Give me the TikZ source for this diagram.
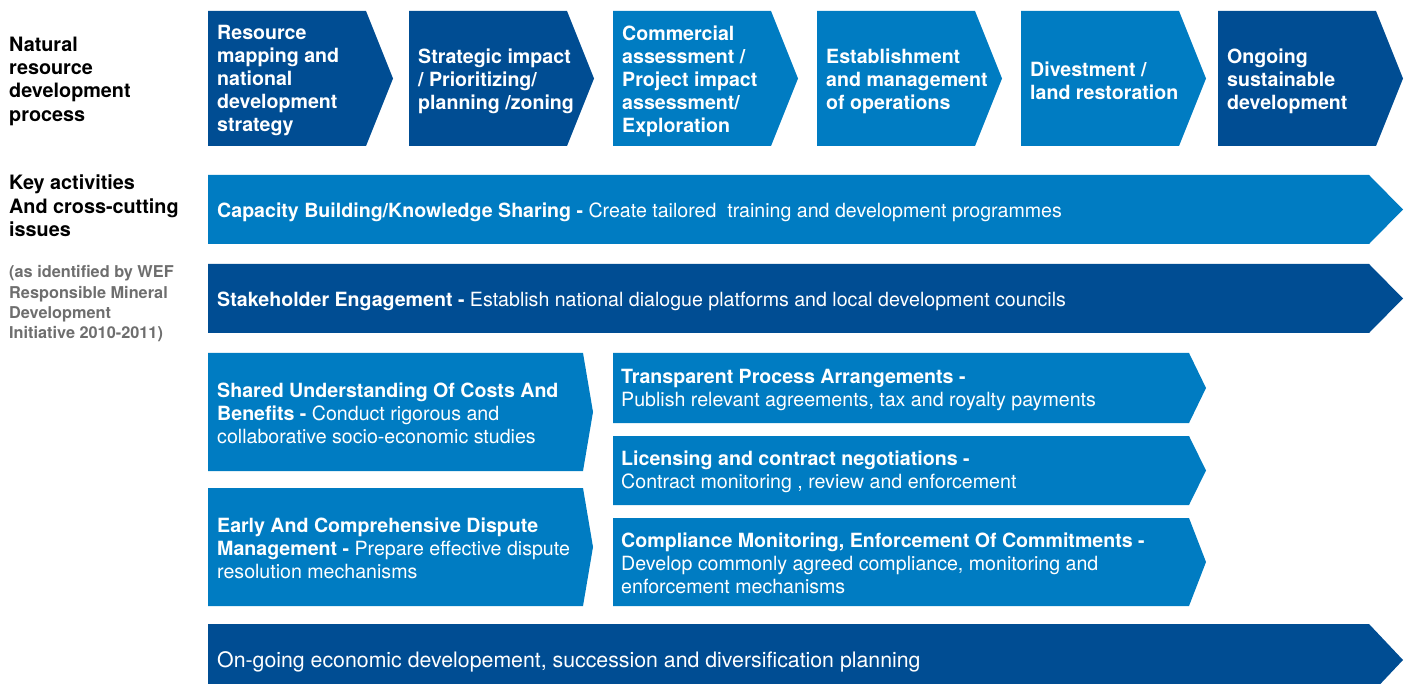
\documentclass[tikz,border=0pt]{standalone}
\usepackage{fontspec}
\setmainfont{TeX Gyre Heros}
\definecolor{dkblue}{RGB}{0,77,147}
\definecolor{ltblue}{RGB}{0,124,194}
\definecolor{notegray}{RGB}{110,110,110}
% filled box with a pointed right end
\newcommand\tipbox[6]{\fill[#1] (#2,#3) -- ++(#4,0) -- ++(#6,#5/2) -- ++(-#6,#5/2) -- ++(-#4,0) -- cycle;}
\tikzset{
  boxtext/.style={anchor=west, align=left, inner sep=0pt, text=white, font=\fontsize{19.6}{23}\selectfont},
  sidetext/.style={anchor=west, align=left, inner sep=0pt, font=\fontsize{19.8}{23.3}\selectfont\bfseries},
  notetext/.style={anchor=west, align=left, inner sep=0pt, text=notegray, font=\fontsize{16.3}{20.3}\selectfont\bfseries}
}
\begin{document}
\begin{tikzpicture}[x=1pt,y=-1pt]
\clip (0,0) rectangle (1408,684);
% left labels
\node[sidetext] (process) at (9,81) {Natural\\resource\\development\\process};
\node[sidetext] (keyact) at (9,206) {Key activities\\And cross-cutting\\issues};
\node[notetext] (wef) at (9,304) {(as identified by WEF\\Responsible Mineral\\Development\\Initiative 2010-2011)};
% process stages
\foreach \x/\c/\t [count=\i] in {
  208/dkblue/{Resource\\mapping and\\national\\development\\strategy},
  409/dkblue/{Strategic impact\\/ Prioritizing/\\planning /zoning},
  613/ltblue/{Commercial\\assessment /\\Project impact\\assessment/\\Exploration},
  817/ltblue/{Establishment\\and management\\of operations},
  1021/ltblue/{Divestment /\\land restoration},
  1218/dkblue/{Ongoing\\sustainable\\development}}{
  \tipbox{\c}{\x}{11}{158}{135}{27}
  \node[boxtext, font=\fontsize{19.6}{23}\selectfont\bfseries] (s\i) at (\x+9,81) {\t};
}
% cross-cutting bars
\tipbox{ltblue}{208}{175}{1161}{69}{34}
\node[boxtext] (capacity) at (217,212) {\textbf{Capacity Building/Knowledge Sharing -} Create tailored\ \ training and development programmes};
\tipbox{dkblue}{208}{264}{1161}{69}{34}
\node[boxtext] (stakeholder) at (217,301) {\textbf{Stakeholder Engagement -} Establish national dialogue platforms and local development councils};
\tipbox{ltblue}{208}{353}{375}{118}{10}
\node[boxtext] (shared) at (217,413.5) {\textbf{Shared Understanding Of Costs And}\\\textbf{Benefits -} Conduct rigorous and\\collaborative socio-economic studies};
\tipbox{ltblue}{208}{488}{375}{118}{10}
\node[boxtext] (dispute) at (217,548.5) {\textbf{Early And Comprehensive Dispute}\\\textbf{Management -} Prepare effective dispute\\resolution mechanisms};
\tipbox{ltblue}{613}{353}{576}{70}{17}
\node[boxtext] (transparent) at (621,390) {\textbf{Transparent Process Arrangements -}\\Publish relevant agreements, tax and royalty payments};
\tipbox{ltblue}{613}{436}{576}{69}{17}
\node[boxtext] (licensing) at (621,472) {\textbf{Licensing and contract negotiations -}\\Contract monitoring , review and enforcement};
\tipbox{ltblue}{613}{518}{576}{88}{17}
\node[boxtext] (compliance) at (621,563.5) {\textbf{Compliance Monitoring, Enforcement Of Commitments -}\\Develop commonly agreed compliance, monitoring and\\enforcement mechanisms};
\tipbox{dkblue}{208}{624}{1161}{72}{34}
\node[boxtext, font=\fontsize{21.3}{25}\selectfont] (ongoing) at (217,662) {On-going economic developement, succession and diversification planning};
\end{tikzpicture}
\end{document}
